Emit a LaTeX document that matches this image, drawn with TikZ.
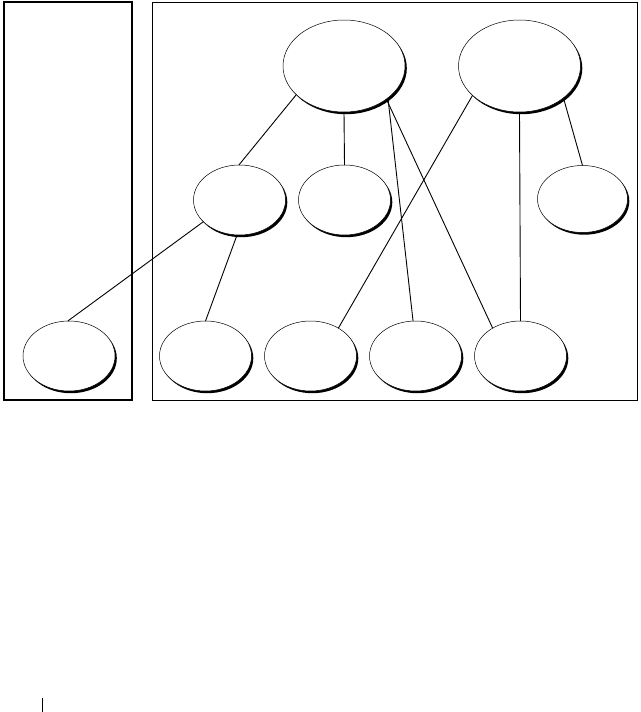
\documentclass[tikz,border=0pt]{standalone}
\usetikzlibrary{shapes.geometric,shadows}
\begin{document}
\begin{tikzpicture}[x=1pt,y=-1pt,
  obj/.style={ellipse,draw=black,line width=0.5pt,fill=white,inner sep=0pt,outer sep=0pt,
    minimum width=92pt,minimum height=70pt,
    general shadow={shadow xshift=1.8pt,shadow yshift=-2.2pt,fill=black}},
  big/.style={obj,minimum width=122pt,minimum height=92pt},
  link/.style={line width=0.9pt,draw=black}]
\useasboundingbox (0,0) rectangle (640,712);
% frames
\draw[line width=1.1pt] (4,2) rectangle (132,400);
\draw[line width=1.9pt] (132,2) -- (132,400);
\draw[line width=1pt] (152,2) rectangle (637,400);
% nodes
\node[big] (t1) at (344,66) {};
\node[big] (t2) at (519.5,66) {};
\node[obj] (m1) at (239.5,200) {};
\node[obj] (m2) at (344.5,200) {};
\node[obj,minimum width=90pt,minimum height=67pt] (m3) at (582.5,199) {};
\node[obj] (b0) at (69,356) {};
\node[obj] (b1) at (205.5,356) {};
\node[obj] (b2) at (310.5,356) {};
\node[obj] (b3) at (415.5,356) {};
\node[obj] (b4) at (520.5,356) {};
% connectors
\draw[link] (t1.211) -- (m1.91);
\draw[link] (t1.270) -- (m2.90);
\draw[link] (t1.324) -- (b3.94);
\draw[link] (t1.322) -- (b4.135);
\draw[link] (t2.212) -- (b2.45);
\draw[link] (t2.270) -- (b4.90);
\draw[link] (t2.324) -- (m3.90);
\draw[link] (m1.211) -- (b0.92);
\draw[link] (m1.266) -- (b1.90);
% page mark
\coordinate (pm1) at (42,698);
\coordinate (pm2) at (42,712);
\draw[line width=0.9pt] (pm1) -- (pm2);
\end{tikzpicture}
\end{document}
